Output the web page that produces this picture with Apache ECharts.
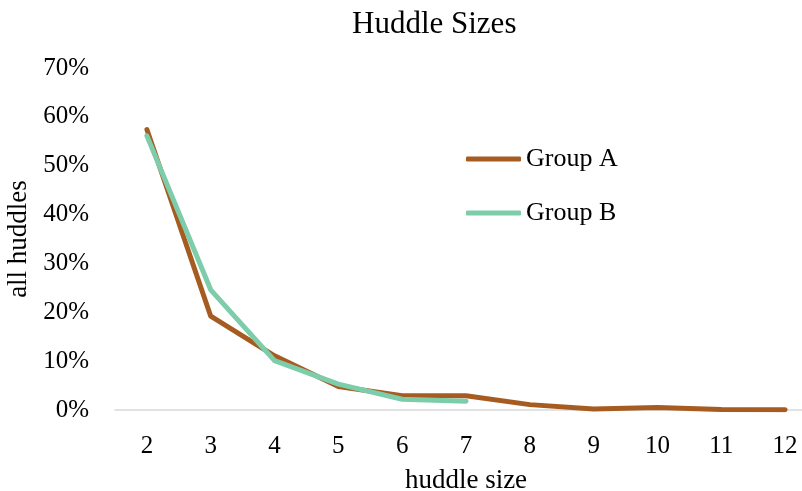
<!DOCTYPE html>
<html>
<head>
<meta charset="utf-8">
<script src="https://cdn.jsdelivr.net/npm/echarts@6/dist/echarts.min.js"></script>
<style>
  html, body { margin: 0; padding: 0; background: #ffffff; }
  #chart { width: 802px; height: 491px; }
</style>
</head>
<body>
<div id="chart"></div>
<script>
// Huddle size categories
var huddleSizes = ['2', '3', '4', '5', '6', '7', '8', '9', '10', '11', '12'];
// Share of all huddles (%) per size
var groupA = [57.4, 19.2, 11.1, 4.8, 2.9, 2.9, 1.1, 0.2, 0.5, 0.1, 0.05];
var groupB = [56.1, 24.6, 10.1, 5.3, 2.2, 1.8];
var yTicks = [0, 10, 20, 30, 40, 50, 60, 70];

var serif = '"Liberation Serif", "Times New Roman", serif';
var chart = echarts.init(document.getElementById('chart'), null, { renderer: 'canvas' });

chart.setOption({
  backgroundColor: '#ffffff',
  animation: false,
  textStyle: { fontFamily: serif, color: '#000000' },
  title: {
    text: 'Huddle Sizes',
    left: 352,
    top: 9,
    padding: 0,
    textStyle: { fontFamily: serif, fontSize: 31, fontWeight: 'normal', color: '#000000' }
  },
  legend: {
    orient: 'vertical',
    left: 466,
    top: 146,
    padding: 0,
    icon: 'roundRect',
    itemWidth: 55,
    itemHeight: 5,
    itemGap: 28,
    textStyle: { fontFamily: serif, fontSize: 26, color: '#000000' },
    data: ['Group A', 'Group B']
  },
  // plot area runs past the right edge of the canvas, so the last category is cut at half band
  grid: {
    left: 115, top: 68, width: 702, height: 342,
    containLabel: false,
    outerBoundsMode: 'none'
  },
  xAxis: {
    type: 'category',
    data: huddleSizes,
    boundaryGap: true,
    name: 'huddle size',
    nameLocation: 'middle',
    nameGap: 57,
    nameTextStyle: { fontFamily: serif, fontSize: 27, color: '#000000' },
    axisLine: { lineStyle: { color: '#d9d9d9', width: 1.5 } },
    axisTick: { show: false },
    axisLabel: { fontFamily: serif, fontSize: 25, color: '#000000', margin: 24 }
  },
  yAxis: {
    type: 'value',
    min: yTicks[0],
    max: yTicks[yTicks.length - 1],
    interval: 10,
    name: 'all huddles',
    nameLocation: 'middle',
    nameGap: 80,
    nameTextStyle: { fontFamily: serif, fontSize: 27, color: '#000000' },
    axisLine: { show: false },
    axisTick: { show: false },
    splitLine: { show: false },
    axisLabel: {
      fontFamily: serif, fontSize: 25, color: '#000000', margin: 26,
      formatter: function (v) { return v + '%'; }
    }
  },
  series: [
    {
      name: 'Group A',
      type: 'line',
      data: groupA,
      symbol: 'none',
      lineStyle: { color: '#a65c21', width: 5, cap: 'round', join: 'round' },
      itemStyle: { color: '#a65c21' }
    },
    {
      name: 'Group B',
      type: 'line',
      data: groupB,
      symbol: 'none',
      lineStyle: { color: '#7dcdab', width: 5, cap: 'round', join: 'round' },
      itemStyle: { color: '#7dcdab' }
    }
  ]
});
</script>
</body>
</html>
